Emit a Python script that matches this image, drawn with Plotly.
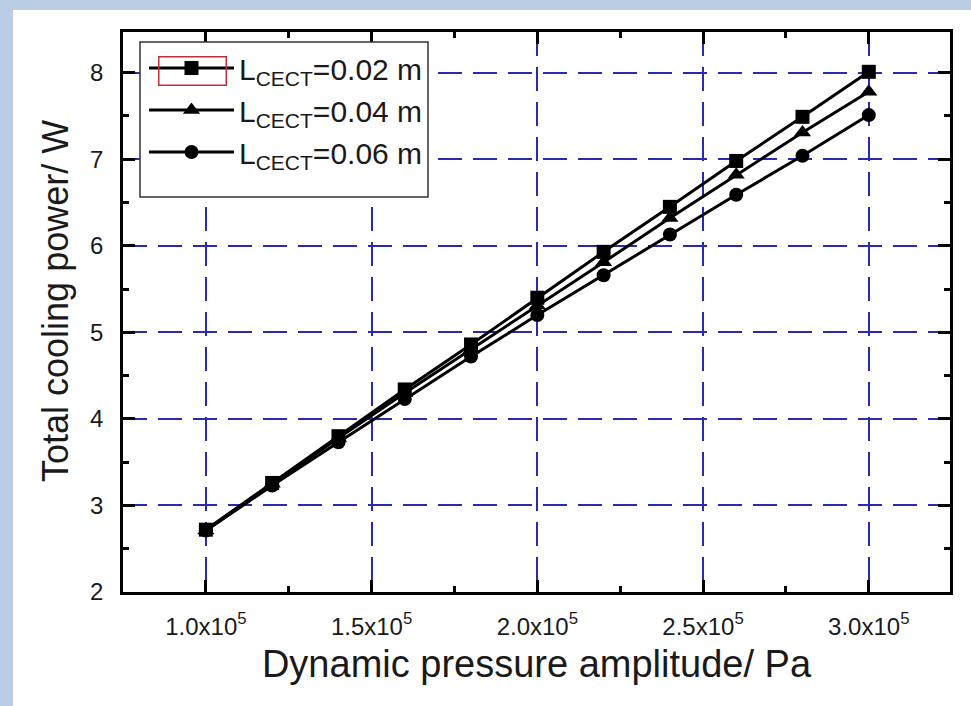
import plotly.graph_objects as go

pressure = [1.0e5, 1.2e5, 1.4e5, 1.6e5, 1.8e5, 2.0e5, 2.2e5, 2.4e5, 2.6e5, 2.8e5, 3.0e5]
power_002 = [2.72, 3.26, 3.80, 4.34, 4.86, 5.40, 5.93, 6.45, 6.98, 7.49, 8.01]
power_004 = [2.71, 3.25, 3.78, 4.30, 4.80, 5.31, 5.81, 6.32, 6.82, 7.31, 7.78]
power_006 = [2.71, 3.23, 3.73, 4.23, 4.72, 5.20, 5.66, 6.13, 6.59, 7.04, 7.51]
series_names = ["L<sub>CECT</sub>=0.02 m", "L<sub>CECT</sub>=0.04 m", "L<sub>CECT</sub>=0.06 m"]
x_tick_vals = [1.0e5, 1.5e5, 2.0e5, 2.5e5, 3.0e5]
x_tick_text = ["1.0x10<sup>5</sup>", "1.5x10<sup>5</sup>", "2.0x10<sup>5</sup>", "2.5x10<sup>5</sup>", "3.0x10<sup>5</sup>"]
y_tick_vals = [2, 3, 4, 5, 6, 7, 8]
x_title = "Dynamic pressure amplitude/ Pa"
y_title = "Total cooling power/ W"

W, H = 971, 706
L, R, T, B = 123, 21, 32, 114
pw, ph = W - L - R, H - T - B

def px_x(p):
    return (p - L) / pw

def px_y(p):
    return (H - B - p) / ph

fig = go.Figure()
symbols = ["square", "triangle-up", "circle"]
sizes = [14, 15, 14]
for vals, name, sym, sz in zip([power_002, power_004, power_006], series_names, symbols, sizes):
    fig.add_trace(go.Scatter(
        x=pressure, y=vals, name=name, mode="lines+markers",
        line=dict(color="black", width=3),
        marker=dict(symbol=sym, size=sz, color="black"),
    ))

font_family = "Liberation Sans, Arial, sans-serif"
grid_color = "#2a2ab0"
blue_bg = "#b9cde4"

fig.update_layout(
    width=W, height=H,
    margin=dict(l=L, r=R, t=T, b=B),
    paper_bgcolor="white",
    plot_bgcolor="white",
    font=dict(family=font_family, color="#1a1a1a"),
    showlegend=True,
    legend=dict(
        x=px_x(144), y=px_y(42), xanchor="left", yanchor="top",
        bgcolor="rgba(0,0,0,0)", borderwidth=0,
        font=dict(size=30, family=font_family, color="#1a1a1a"),
        itemwidth=85, tracegroupgap=0,
    ),
    xaxis=dict(
        range=[0.75e5, 3.245e5],
        tickmode="array", tickvals=x_tick_vals, ticktext=x_tick_text,
        tickfont=dict(size=24),
        ticks="inside", ticklen=12, tickwidth=2.5, tickcolor="black",
        minor=dict(ticks="inside", ticklen=6, tickwidth=2.5, tickcolor="black", dtick=0.25e5, tick0=0.75e5, showgrid=False),
        showline=True, linecolor="black", linewidth=2.5, mirror="ticks",
        showgrid=True, gridcolor=grid_color, gridwidth=1.5, griddash="24px,11px",
        zeroline=False,
        ticklabelstandoff=11,
        title=dict(text=x_title, font=dict(size=38), standoff=12),
    ),
    yaxis=dict(
        range=[2, 8.47],
        tickmode="array", tickvals=y_tick_vals,
        tickfont=dict(size=24),
        ticks="inside", ticklen=12, tickwidth=2.5, tickcolor="black",
        minor=dict(ticks="inside", ticklen=6, tickwidth=2.5, tickcolor="black", dtick=0.5, tick0=2, showgrid=False),
        showline=True, linecolor="black", linewidth=2.5, mirror="ticks",
        showgrid=True, gridcolor=grid_color, gridwidth=1.5, griddash="24px,11px",
        zeroline=False,
        ticklabelstandoff=12,
    ),
    shapes=[
        dict(type="rect", xref="paper", yref="paper", x0=px_x(0), x1=px_x(W), y0=px_y(10), y1=px_y(0),
             fillcolor=blue_bg, line=dict(width=0), layer="below"),
        dict(type="rect", xref="paper", yref="paper", x0=px_x(0), x1=px_x(13), y0=px_y(H), y1=px_y(0),
             fillcolor=blue_bg, line=dict(width=0), layer="below"),
        dict(type="rect", xref="paper", yref="paper", x0=px_x(140), x1=px_x(428), y0=px_y(197), y1=px_y(42),
             fillcolor="white", line=dict(color="#333333", width=1.5), layer="above"),
    ],
    annotations=[
        dict(xref="paper", yref="paper", x=px_x(55), y=px_y(301), xanchor="center", yanchor="middle",
             text=y_title, textangle=-90, showarrow=False, font=dict(size=36, family=font_family, color="#1a1a1a")),
        dict(xref="paper", yref="paper", x=px_x(192), y=px_y(71), xanchor="center", yanchor="middle",
             text=" ", showarrow=False, width=66, height=27, bordercolor="#c0303a", borderwidth=1.5,
             borderpad=0, bgcolor="rgba(0,0,0,0)"),
    ],
)

fig.write_html("out.html", config={"displayModeBar": False},
               post_script="document.body.style.margin='0';document.body.style.overflow='hidden';")
